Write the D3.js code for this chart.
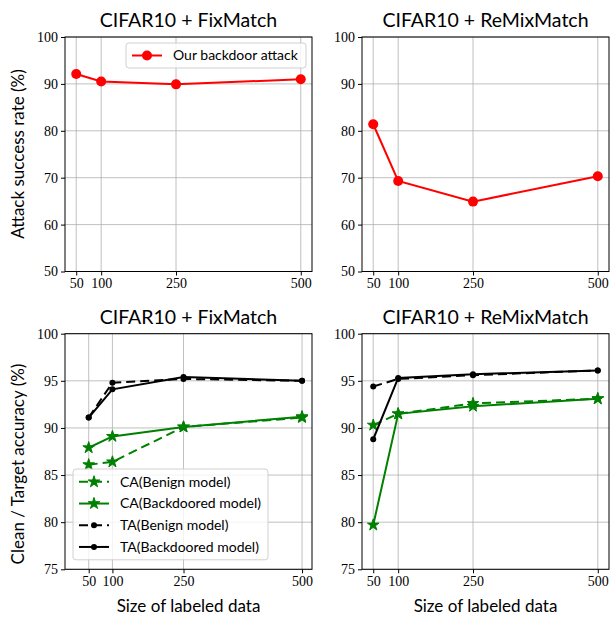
<!DOCTYPE html>
<html>
<head>
<meta charset="utf-8">
<script src="https://cdn.jsdelivr.net/npm/d3@7"></script>
<style>
  body { margin: 0; background: #fff; }
  .tick text { font-family: "Liberation Serif", serif; font-size: 14px; fill: #000; }
  .title, .label, .legend-text { font-family: "Lato", "DejaVu Sans", sans-serif; fill: #000; }
</style>
</head>
<body>
<svg id="chart" width="610" height="621"></svg>
<script>
const sizes = [50, 100, 250, 500];
const asrFixMatch = [92.1, 90.5, 89.9, 91.0];
const asrReMixMatch = [81.4, 69.3, 64.9, 70.3];
const caBenignFix = [86.1, 86.4, 90.1, 91.1];
const caBackdoorFix = [87.9, 89.1, 90.1, 91.2];
const taBenignFix = [91.1, 94.8, 95.2, 95.0];
const taBackdoorFix = [91.1, 94.1, 95.4, 95.0];
const caBenignReMix = [90.3, 91.5, 92.6, 93.1];
const caBackdoorReMix = [79.7, 91.5, 92.3, 93.1];
const taBenignReMix = [94.4, 95.2, 95.6, 96.1];
const taBackdoorReMix = [88.8, 95.3, 95.7, 96.1];
const asrTicks = [50, 60, 70, 80, 90, 100];
const accTicks = [75, 80, 85, 90, 95, 100];

const RED = '#ff0000';
const GREEN = '#008000';
const BLACK = '#000000';

const svg = d3.select('#chart');

const panels = [
  {
    title: 'CIFAR10 + FixMatch', x: 65, y: 37, w: 247, h: 234.5,
    xDomain: [27.5, 522.5], yDomain: [50, 100], yTicks: asrTicks,
    lines: [{ values: asrFixMatch, label: 'Our backdoor attack', color: RED, dash: null, marker: 'circle', r: 5 }],
    legend: { x: 126, y: 43, w: 180, rowH: 21 }
  },
  {
    title: 'CIFAR10 + ReMixMatch', x: 362, y: 37, w: 247, h: 234.5,
    xDomain: [27.5, 522.5], yDomain: [50, 100], yTicks: asrTicks,
    lines: [{ values: asrReMixMatch, label: 'Our backdoor attack', color: RED, dash: null, marker: 'circle', r: 5 }]
  },
  {
    title: 'CIFAR10 + FixMatch', x: 65, y: 333.7, w: 247, h: 235.6,
    xDomain: [0, 521], yDomain: [75, 100], yTicks: accTicks,
    lines: [
      { values: caBenignFix, label: 'CA(Benign model)', color: GREEN, dash: '9,5', marker: 'star' },
      { values: caBackdoorFix, label: 'CA(Backdoored model)', color: GREEN, dash: null, marker: 'star' },
      { values: taBenignFix, label: 'TA(Benign model)', color: BLACK, dash: '9,5', marker: 'circle', r: 3 },
      { values: taBackdoorFix, label: 'TA(Backdoored model)', color: BLACK, dash: null, marker: 'circle', r: 3 }
    ],
    legend: { x: 73, y: 469, w: 195, rowH: 21.7 },
    xLabel: true
  },
  {
    title: 'CIFAR10 + ReMixMatch', x: 362, y: 333.7, w: 247, h: 235.6,
    xDomain: [27.5, 522.5], yDomain: [75, 100], yTicks: accTicks,
    lines: [
      { values: caBenignReMix, label: 'CA(Benign model)', color: GREEN, dash: '9,5', marker: 'star' },
      { values: caBackdoorReMix, label: 'CA(Backdoored model)', color: GREEN, dash: null, marker: 'star' },
      { values: taBenignReMix, label: 'TA(Benign model)', color: BLACK, dash: '9,5', marker: 'circle', r: 3 },
      { values: taBackdoorReMix, label: 'TA(Backdoored model)', color: BLACK, dash: null, marker: 'circle', r: 3 }
    ],
    xLabel: true
  }
];

const star = d3.symbol().type(d3.symbolStar).size(42);

function drawMarker(g, m, x, y) {
  if (m.marker === 'circle') {
    g.append('circle').attr('cx', x).attr('cy', y).attr('r', m.r).attr('fill', m.color);
  } else {
    g.append('path').attr('d', star).attr('transform', `translate(${x},${y})`)
      .attr('fill', m.color).attr('stroke', m.color).attr('stroke-width', 1);
  }
}

panels.forEach(p => {
  const g = svg.append('g').attr('transform', `translate(${p.x},${p.y})`);
  const x = d3.scaleLinear().domain(p.xDomain).range([0, p.w]);
  const y = d3.scaleLinear().domain(p.yDomain).range([p.h, 0]);

  // grid
  g.append('g').selectAll('line').data(sizes).enter().append('line')
    .attr('x1', d => x(d)).attr('x2', d => x(d)).attr('y1', 0).attr('y2', p.h)
    .attr('stroke', '#b0b0b0').attr('stroke-width', 0.8);
  g.append('g').selectAll('line').data(p.yTicks).enter().append('line')
    .attr('y1', d => y(d)).attr('y2', d => y(d)).attr('x1', 0).attr('x2', p.w)
    .attr('stroke', '#b0b0b0').attr('stroke-width', 0.8);

  // lines
  p.lines.forEach(s => {
    const line = d3.line().x((d, i) => x(sizes[i])).y(d => y(d));
    g.append('path').datum(s.values).attr('d', line)
      .attr('fill', 'none').attr('stroke', s.color).attr('stroke-width', 2)
      .attr('stroke-dasharray', s.dash);
    s.values.forEach((v, i) => drawMarker(g, s, x(sizes[i]), y(v)));
  });

  // frame
  g.append('rect').attr('width', p.w).attr('height', p.h)
    .attr('fill', 'none').attr('stroke', '#000').attr('stroke-width', 1);

  // axes
  g.append('g').attr('transform', `translate(0,${p.h})`)
    .call(d3.axisBottom(x).tickValues(sizes).tickSize(4).tickPadding(3))
    .call(a => a.select('.domain').remove());
  g.append('g')
    .call(d3.axisLeft(y).tickValues(p.yTicks).tickSize(4).tickPadding(3))
    .call(a => a.select('.domain').remove());

  g.append('text').attr('class', 'title')
    .attr('x', p.w / 2).attr('y', -10).attr('text-anchor', 'middle')
    .style('font-size', '19.5px').text(p.title);

  if (p.xLabel) {
    g.append('text').attr('class', 'label')
      .attr('x', p.w / 2).attr('y', p.h + 43).attr('text-anchor', 'middle')
      .style('font-size', '17px').text('Size of labeled data');
  }

  if (p.legend) {
    const L = p.legend;
    const lg = svg.append('g').attr('transform', `translate(${L.x},${L.y})`);
    lg.append('rect').attr('width', L.w).attr('height', L.rowH * p.lines.length + 4)
      .attr('rx', 3).attr('fill', 'rgba(255,255,255,0.8)')
      .attr('stroke', '#d0d0d0').attr('stroke-width', 1);
    p.lines.forEach((s, i) => {
      const cy = 2 + L.rowH * (i + 0.5);
      lg.append('line').attr('x1', 6).attr('x2', 36).attr('y1', cy).attr('y2', cy)
        .attr('stroke', s.color).attr('stroke-width', 2).attr('stroke-dasharray', s.dash);
      drawMarker(lg, s, 21, cy);
      lg.append('text').attr('class', 'legend-text')
        .attr('x', 47).attr('y', cy).attr('dy', '0.35em')
        .style('font-size', '14px').text(s.label);
    });
  }
});

svg.append('text').attr('class', 'label')
  .attr('transform', 'translate(24,154) rotate(-90)').attr('text-anchor', 'middle')
  .style('font-size', '17px').text('Attack success rate (%)');
svg.append('text').attr('class', 'label')
  .attr('transform', 'translate(24,464) rotate(-90)').attr('text-anchor', 'middle')
  .style('font-size', '17px').text('Clean / Target accuracy (%)');
</script>
</body>
</html>
